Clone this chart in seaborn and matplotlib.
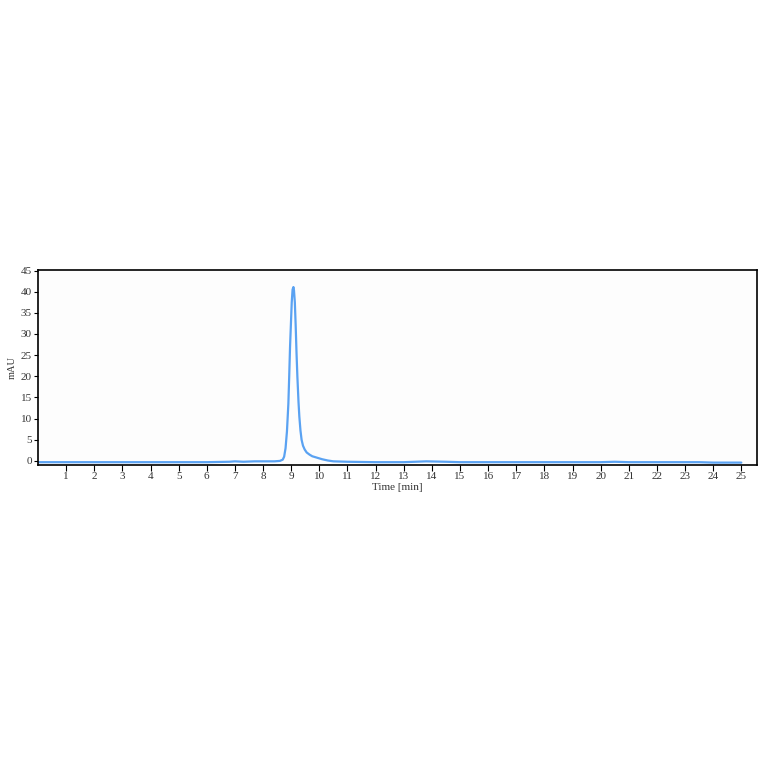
import numpy as np
import pandas as pd
import matplotlib
matplotlib.use('Agg')
import matplotlib.pyplot as plt
import seaborn as sns

# chromatogram trace (time in min, signal in mAU)
time_min = [0.0, 1.0, 2.0, 3.0, 4.0, 5.0, 6.0, 6.8, 7.0, 7.3, 7.7, 8.0, 8.4,
            8.6, 8.7, 8.75, 8.8, 8.85, 8.9, 8.93, 8.96, 9.0, 9.02, 9.05, 9.08,
            9.1, 9.13, 9.16, 9.19, 9.22, 9.26, 9.29, 9.33, 9.37, 9.42, 9.48,
            9.55, 9.65, 9.75, 9.9, 10.1, 10.3, 10.5, 11.0, 12.0, 13.0, 13.8,
            14.5, 15.0, 16.0, 17.0, 18.0, 19.0, 20.0, 20.5, 21.0, 22.0, 23.0,
            23.5, 24.0, 25.0]
signal_mau = [-0.3, -0.3, -0.3, -0.3, -0.3, -0.3, -0.3, -0.2, -0.1, -0.2, -0.1,
              -0.1, -0.1, 0.0, 0.3, 1.0, 3.0, 7.0, 13.5, 20.0, 27.0, 34.0,
              37.5, 40.5, 41.1, 40.3, 37.5, 32.0, 25.5, 20.0, 14.0, 10.5, 7.2,
              5.0, 3.6, 2.7, 2.0, 1.5, 1.1, 0.8, 0.4, 0.1, -0.1, -0.2, -0.3,
              -0.3, -0.1, -0.2, -0.3, -0.3, -0.3, -0.3, -0.3, -0.3, -0.2, -0.3,
              -0.3, -0.3, -0.3, -0.4, -0.4]

x_ticks = list(range(1, 26))
y_ticks = [0, 5, 10, 15, 20, 25, 30, 35, 40, 45]

df = pd.DataFrame({'Time [min]': time_min, 'mAU': signal_mau})

sns.set_style('white')
plt.rcParams['font.family'] = ['Liberation Serif', 'DejaVu Serif']

fig = plt.figure(figsize=(7.64, 7.64), dpi=100)
ax = fig.add_axes([0.0497, 0.392, 0.9405, 0.255])
ax.set_facecolor('#fdfdfd')

sns.lineplot(data=df, x='Time [min]', y='mAU', ax=ax, color='#5aa2f2',
             linewidth=1.6, estimator=None)

ax.set_xlim(0, 25.54)
ax.set_ylim(-0.85, 45.2)
ax.set_xticks(x_ticks)
ax.set_yticks(y_ticks)
ax.tick_params(axis='both', bottom=True, left=True, labelsize=8,
               colors='#333333', length=3, width=0.8, direction='out', pad=1.5)
ax.tick_params(axis='x', length=4, color='black')
ax.tick_params(axis='y', color='black')
for sp in ax.spines.values():
    sp.set_color('black')
    sp.set_linewidth(1.2)
ax.set_xlabel('Time [min]', fontsize=8, color='#333333', labelpad=1)
ax.set_ylabel('mAU', fontsize=7.5, color='#333333', labelpad=3)

fig.savefig('out.png', dpi=100)
